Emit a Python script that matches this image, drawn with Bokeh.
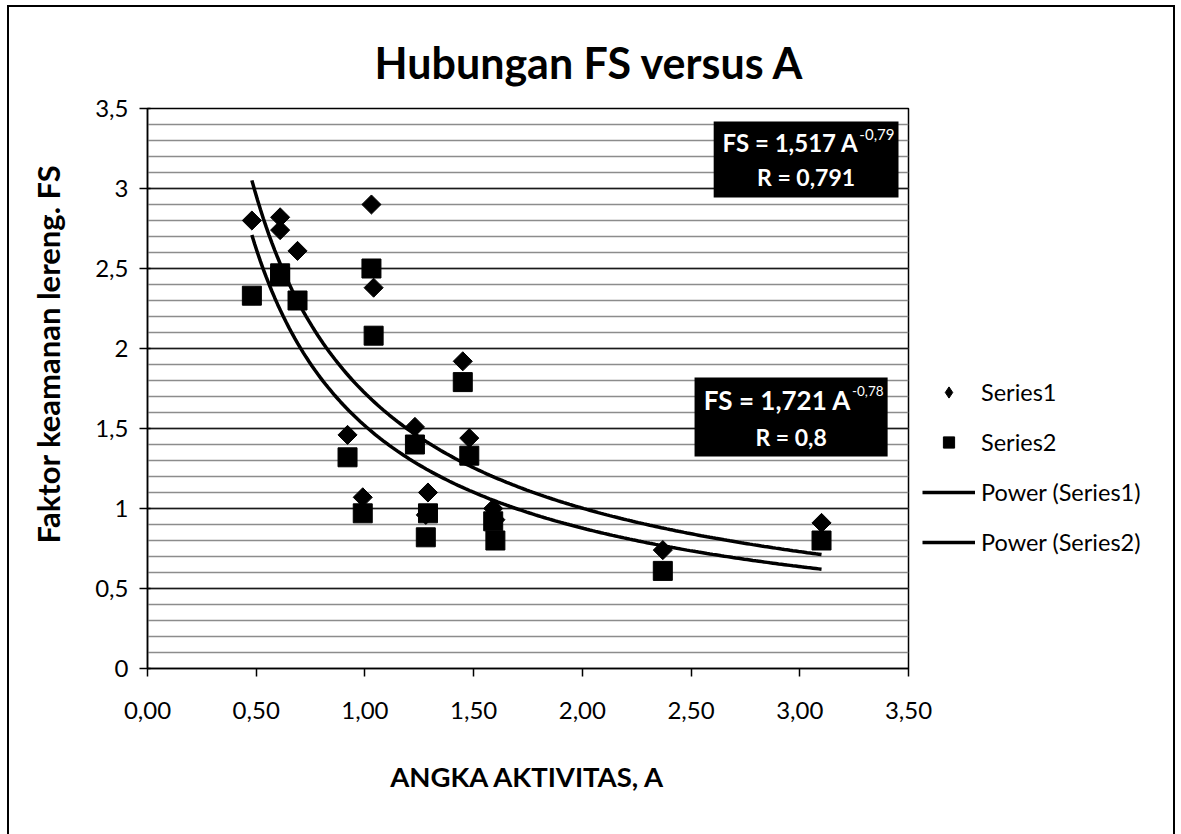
import numpy as np
from bokeh.plotting import figure
from bokeh.models import (Range1d, SingleIntervalTicker, CustomJSTickFormatter, Legend,
                          LegendItem, Label, BoxAnnotation, Title)
from bokeh.embed import file_html
from bokeh.resources import INLINE

# ---------------- data ----------------
TITLE = "Hubungan FS versus A"
X_LABEL = "ANGKA AKTIVITAS, A"
Y_LABEL = "Faktor keamanan lereng. FS"

series1_a = [0.48, 0.61, 0.61, 0.69, 0.92, 0.99, 1.03, 1.04, 1.23, 1.28, 1.29, 1.45, 1.48, 1.59, 1.60, 2.37, 3.10]
series1_fs = [2.80, 2.82, 2.74, 2.61, 1.46, 1.07, 2.90, 2.38, 1.51, 0.96, 1.10, 1.92, 1.44, 1.00, 0.93, 0.74, 0.91]
series2_a = [0.48, 0.61, 0.61, 0.69, 0.92, 0.99, 1.03, 1.04, 1.23, 1.28, 1.29, 1.45, 1.48, 1.59, 1.60, 2.37, 3.10]
series2_fs = [2.33, 2.47, 2.45, 2.30, 1.32, 0.97, 2.50, 2.08, 1.40, 0.82, 0.97, 1.79, 1.33, 0.92, 0.80, 0.61, 0.80]

# power trend lines FS = c * A^k
power1_coef, power1_exp = 1.721, -0.78
power2_coef, power2_exp = 1.517, -0.79

legend_labels = ["Series1", "Series2", "Power (Series1)", "Power (Series2)"]
box_upper_lines = ["FS = 1,517 A", "-0,79", "R = 0,791"]
box_lower_lines = ["FS = 1,721 A", "-0,78", "R = 0,8"]

FONT = "Lato"

border_css = """
:host {
  background-image: linear-gradient(black, black), linear-gradient(black, black), linear-gradient(black, black);
  background-size: 2px 100%, 1168px 2px, 2px 100%;
  background-position: 7px 6px, 7px 5px, 1173px 6px;
  background-repeat: no-repeat;
}
"""

p = figure(frame_width=761, frame_height=560, output_backend="svg", toolbar_location=None,
           x_range=Range1d(0, 3.5), y_range=Range1d(0, 3.5),
           min_border_left=147, min_border_right=273, min_border_top=108, min_border_bottom=166,
           background_fill_color="white", border_fill_color="white", border_fill_alpha=0,
           stylesheets=[border_css])

p.outline_line_color = "black"
p.outline_line_width = 1.5

t = Title(text=TITLE, align="left", offset=227, text_font=FONT, text_font_size="43px",
          text_font_style="bold", text_color="black", standoff=41)
p.add_layout(t, "above")

# axes
p.xaxis.ticker = SingleIntervalTicker(interval=0.5, num_minor_ticks=0)
p.yaxis.ticker = SingleIntervalTicker(interval=0.5, num_minor_ticks=5)
p.xaxis.formatter = CustomJSTickFormatter(code="return tick.toFixed(2).replace('.', ',');")
p.yaxis.formatter = CustomJSTickFormatter(code="return (Math.round(tick*10)/10).toString().replace('.', ',');")
for ax in (p.xaxis[0], p.yaxis[0]):
    ax.axis_line_color = "black"
    ax.axis_line_width = 1.5
    ax.major_tick_line_color = "black"
    ax.major_tick_line_width = 1.5
    ax.major_tick_out = 8
    ax.major_tick_in = 0
    ax.minor_tick_out = 0
    ax.minor_tick_in = 0
    ax.major_label_text_font = FONT
    ax.major_label_text_font_size = "24px"
    ax.major_label_text_color = "black"
p.yaxis.major_tick_in = 3
p.xaxis.major_label_standoff = 25
p.yaxis.major_label_standoff = 11
p.xaxis.axis_label = X_LABEL
p.xaxis.axis_label_text_font = FONT
p.xaxis.axis_label_text_font_size = "27.5px"
p.xaxis.axis_label_text_font_style = "bold"
p.xaxis.axis_label_text_color = "black"
p.xaxis.axis_label_standoff = 38

p.xgrid.grid_line_color = None
p.ygrid.grid_line_color = "#1a1a1a"
p.ygrid.grid_line_width = 1.5
p.ygrid.minor_grid_line_color = "#8c8c8c"
p.ygrid.minor_grid_line_width = 1.5

# y axis title (shifted upward like the reference)
p.add_layout(Title(text=Y_LABEL, align="left", offset=125, text_font=FONT, text_font_size="31px",
                   text_font_style="bold", text_color="black", standoff=51), "left")

# trend lines
xa = np.linspace(min(series1_a), max(series1_a), 200)
l1 = p.line(xa, power1_coef * xa ** power1_exp, line_color="black", line_width=3.5)
xb = np.linspace(min(series2_a), max(series2_a), 200)
l2 = p.line(xb, power2_coef * xb ** power2_exp, line_color="black", line_width=3.5)

# scatter
r1 = p.scatter(series1_a, series1_fs, marker="square", angle=np.pi / 4, size=13.5,
               fill_color="black", line_color="black")
r2 = p.scatter(series2_a, series2_fs, marker="square", size=19,
               fill_color="black", line_color="black")
# legend proxy for the diamond symbol (not a data point, never visible)
r1_leg = p.scatter([float("nan")], [float("nan")], marker="diamond", size=21,
                   fill_color="black", line_color="black")

# equation boxes
p.add_layout(BoxAnnotation(left=2.604, right=3.454, top=3.419, bottom=2.944,
                           fill_color="black", fill_alpha=1, line_color=None))
p.add_layout(BoxAnnotation(left=2.516, right=3.404, top=1.819, bottom=1.325,
                           fill_color="black", fill_alpha=1, line_color=None))

def box_text(lines, x_a, y1, y_sup, xc, y2, fs1="24px", fs_sup="15px"):
    p.add_layout(Label(x=x_a, y=y1, text=lines[0], text_align="right", text_baseline="alphabetic",
                       text_font=FONT, text_font_size=fs1, text_font_style="bold",
                       text_color="white"))
    p.add_layout(Label(x=x_a + 0.004, y=y_sup, text=lines[1], text_align="left",
                       text_baseline="alphabetic", text_font=FONT, text_font_size=fs_sup,
                       text_color="white"))
    p.add_layout(Label(x=xc, y=y2, text=lines[2], text_align="center", text_baseline="alphabetic",
                       text_font=FONT, text_font_size="23px", text_font_style="bold",
                       text_color="white"))

box_text(box_upper_lines, 3.270, 3.2875, 3.335, 3.029, 3.075)
box_text(box_lower_lines, 3.236, 1.681, 1.735, 2.960, 1.45, fs1="26px", fs_sup="13.5px")

legend = Legend(items=[LegendItem(label=legend_labels[0], renderers=[r1_leg]),
                       LegendItem(label=legend_labels[1], renderers=[r2]),
                       LegendItem(label=legend_labels[2], renderers=[l1]),
                       LegendItem(label=legend_labels[3], renderers=[l2])],
                location=(14, 112), margin=0, padding=0, spacing=22,
                glyph_width=53, glyph_height=28, label_height=28, label_standoff=6,
                label_text_font=FONT, label_text_font_size="23.5px", label_text_color="black",
                border_line_color=None, background_fill_alpha=0)
p.add_layout(legend, "right")

open("out.html", "w").write(file_html(p, INLINE))
